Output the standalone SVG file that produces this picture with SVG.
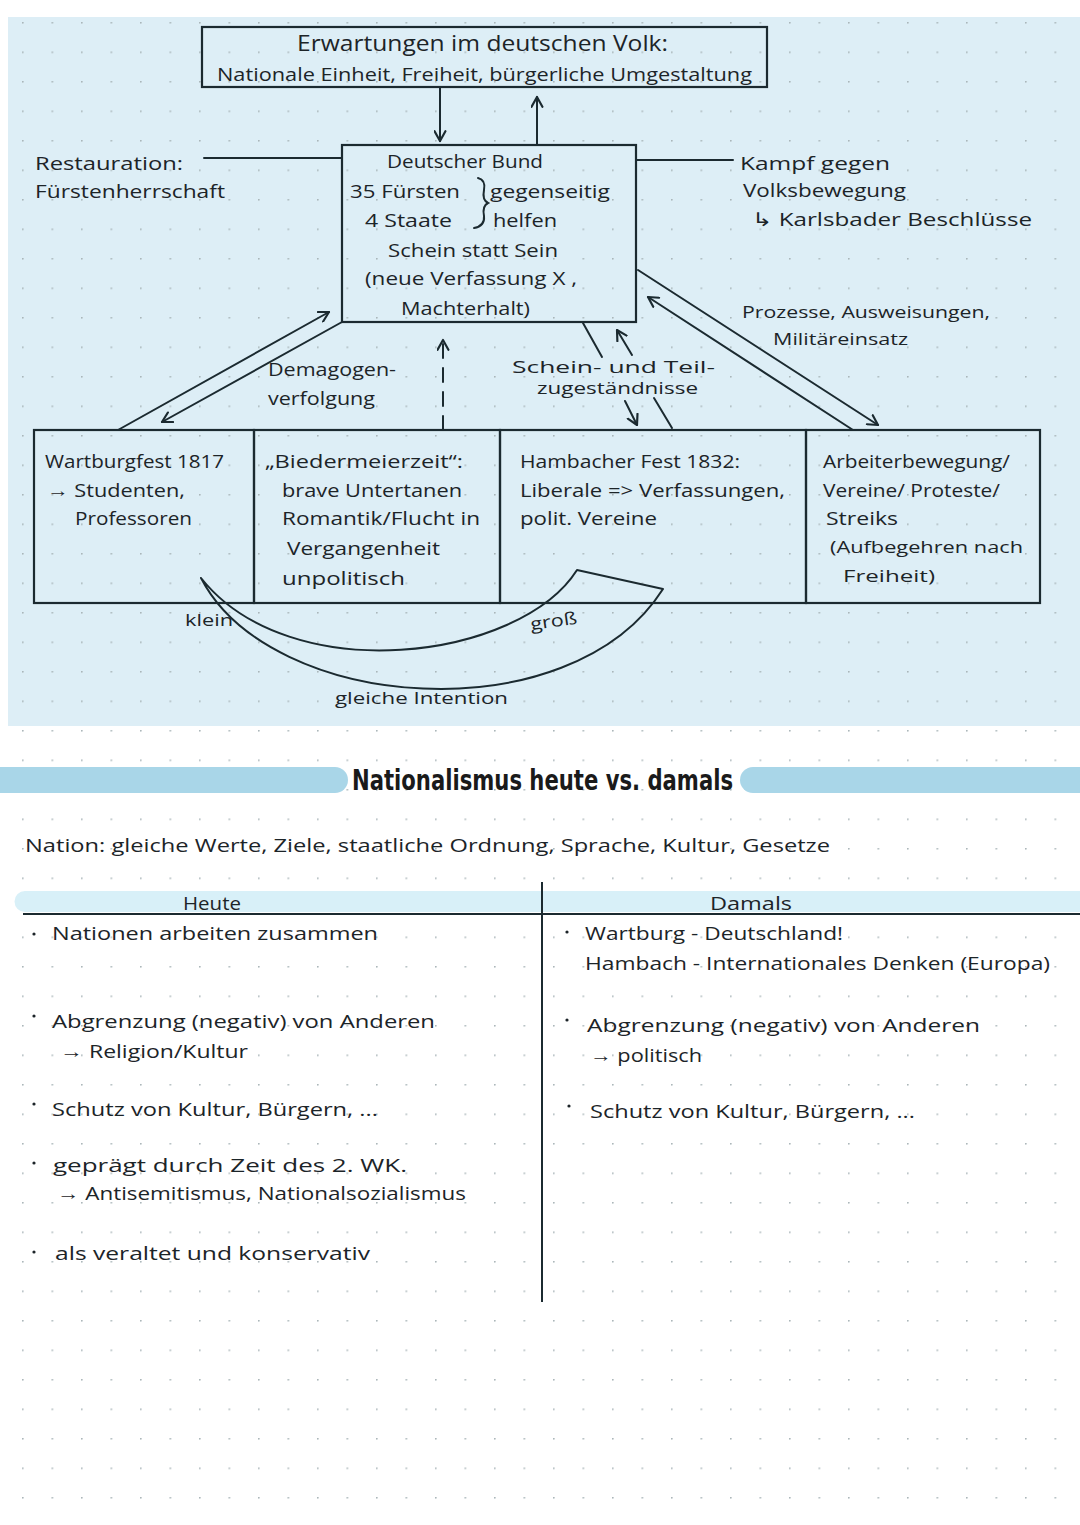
<svg xmlns="http://www.w3.org/2000/svg" width="1080" height="1525" viewBox="0 0 1080 1525">
<defs>
<pattern id="dots" x="22" y="22" width="29.5" height="29.5" patternUnits="userSpaceOnUse">
<circle cx="0.8" cy="0.8" r="0.9" fill="#a7b3b7"/>
</pattern>
<marker id="ah" viewBox="0 0 12 12" refX="10" refY="6" markerWidth="13" markerHeight="13" markerUnits="userSpaceOnUse" orient="auto-start-reverse">
<path d="M1,1 L10,6 L1,11" fill="none" stroke="#1b2a30" stroke-width="2" stroke-linecap="round" stroke-linejoin="round"/>
</marker>
</defs>
<style>
.hw{font-family:"Open Sans","Liberation Sans",sans-serif;font-size:19px;fill:#1c2428}
.sm{font-size:17px}
.big{font-size:22px}
.ln{stroke:#1b2a30;stroke-width:2;fill:none;stroke-linecap:round}
.box{stroke:#1b2a30;stroke-width:2.2;fill:none}
.title{font-family:"DejaVu Sans Condensed","Liberation Sans Narrow","Liberation Sans",sans-serif;font-weight:bold;font-size:29px;fill:#1a1a1a}
.bl{fill:#1c2428}
</style>
<rect x="0" y="0" width="1080" height="1525" fill="#ffffff"/>
<rect x="8" y="17" width="1072" height="709" fill="#ddeef6"/>
<rect x="0" y="0" width="1080" height="1525" fill="url(#dots)"/>

<g id="connectors">
<line class="ln" x1="440" y1="88" x2="440" y2="141" marker-end="url(#ah)"/>
<line class="ln" x1="537" y1="144" x2="537" y2="97" marker-end="url(#ah)"/>
<line class="ln" x1="204" y1="158" x2="342" y2="158"/>
<line class="ln" x1="636" y1="160" x2="733" y2="160"/>
<line class="ln" x1="118" y1="430" x2="329" y2="312" marker-end="url(#ah)"/>
<line class="ln" x1="342" y1="322" x2="162" y2="422" marker-end="url(#ah)"/>
<line class="ln" x1="638" y1="270" x2="878" y2="425" marker-end="url(#ah)"/>
<line class="ln" x1="853" y1="430" x2="648" y2="297" marker-end="url(#ah)"/>
<line class="ln" x1="443" y1="430" x2="443" y2="340" stroke-dasharray="14,10" marker-end="url(#ah)"/>
<line class="ln" x1="583" y1="323" x2="602" y2="357"/>
<line class="ln" x1="632" y1="355" x2="617" y2="330" marker-end="url(#ah)"/>
<line class="ln" x1="625" y1="401" x2="637" y2="425" marker-end="url(#ah)"/>
<line class="ln" x1="654" y1="398" x2="672" y2="428"/>
<path class="ln" d="M201,578 C270,712 570,735 663,589 L577,570 C520,660 290,690 201,578" stroke-linejoin="round"/>
</g>

<g id="node-erwartungen">
<rect class="box" x="202" y="27" width="565" height="60"/>
<text class="hw big" x="297" y="51" textLength="371" lengthAdjust="spacingAndGlyphs">Erwartungen im deutschen Volk:</text>
<text class="hw" x="217" y="81" textLength="535" lengthAdjust="spacingAndGlyphs">Nationale Einheit, Freiheit, bürgerliche Umgestaltung</text>
</g>

<g id="node-restauration">
<text class="hw" x="35" y="170" textLength="148" lengthAdjust="spacingAndGlyphs">Restauration:</text>
<text class="hw" x="35" y="198" textLength="190" lengthAdjust="spacingAndGlyphs">Fürstenherrschaft</text>
</g>

<g id="node-bund">
<rect class="box" x="342" y="145" width="294" height="177"/>
<text class="hw" x="387" y="168" textLength="156" lengthAdjust="spacingAndGlyphs">Deutscher Bund</text>
<text class="hw" x="350" y="198" textLength="110" lengthAdjust="spacingAndGlyphs">35 Fürsten</text>
<path class="ln" d="M478,178 Q486,180 484,190 Q482,200 488,203 Q482,206 484,216 Q485,226 474,228" stroke-width="1.8"/>
<text class="hw" x="490" y="198" textLength="120" lengthAdjust="spacingAndGlyphs">gegenseitig</text>
<text class="hw" x="365" y="227" textLength="87" lengthAdjust="spacingAndGlyphs">4 Staate</text>
<text class="hw" x="493" y="227" textLength="64" lengthAdjust="spacingAndGlyphs">helfen</text>
<text class="hw" x="388" y="257" textLength="170" lengthAdjust="spacingAndGlyphs">Schein statt Sein</text>
<text class="hw" x="365" y="285" textLength="212" lengthAdjust="spacingAndGlyphs">(neue Verfassung X ,</text>
<text class="hw" x="401" y="315" textLength="129" lengthAdjust="spacingAndGlyphs">Machterhalt)</text>
</g>

<g id="node-kampf">
<text class="hw" x="740" y="170" textLength="150" lengthAdjust="spacingAndGlyphs">Kampf gegen</text>
<text class="hw" x="743" y="197" textLength="163" lengthAdjust="spacingAndGlyphs">Volksbewegung</text>
<text class="hw" x="752" y="226" textLength="280" lengthAdjust="spacingAndGlyphs">↳ Karlsbader Beschlüsse</text>
</g>

<g id="label-prozesse">
<text class="hw sm" x="742" y="318" textLength="248" lengthAdjust="spacingAndGlyphs">Prozesse, Ausweisungen,</text>
<text class="hw sm" x="773" y="345" textLength="135" lengthAdjust="spacingAndGlyphs">Militäreinsatz</text>
</g>

<g id="label-demagogen">
<text class="hw" x="268" y="376" textLength="128" lengthAdjust="spacingAndGlyphs">Demagogen-</text>
<text class="hw" x="268" y="405" textLength="107" lengthAdjust="spacingAndGlyphs">verfolgung</text>
</g>

<g id="label-schein">
<text class="hw sm" x="512" y="373" textLength="203" lengthAdjust="spacingAndGlyphs">Schein- und Teil-</text>
<text class="hw sm" x="537" y="394" textLength="161" lengthAdjust="spacingAndGlyphs">zugeständnisse</text>
</g>

<g id="node-wartburg">
<rect class="box" x="34" y="430" width="220" height="173"/>
<text class="hw" x="45" y="468" textLength="179" lengthAdjust="spacingAndGlyphs">Wartburgfest 1817</text>
<text class="hw" x="47" y="497" textLength="138" lengthAdjust="spacingAndGlyphs">→ Studenten,</text>
<text class="hw" x="75" y="525" textLength="117" lengthAdjust="spacingAndGlyphs">Professoren</text>
</g>

<g id="node-biedermeier">
<rect class="box" x="254" y="430" width="246" height="173"/>
<text class="hw" x="265" y="468" textLength="198" lengthAdjust="spacingAndGlyphs">„Biedermeierzeit“:</text>
<text class="hw" x="282" y="497" textLength="180" lengthAdjust="spacingAndGlyphs">brave Untertanen</text>
<text class="hw" x="282" y="525" textLength="198" lengthAdjust="spacingAndGlyphs">Romantik/Flucht in</text>
<text class="hw" x="287" y="555" textLength="153" lengthAdjust="spacingAndGlyphs">Vergangenheit</text>
<text class="hw" x="282" y="585" textLength="123" lengthAdjust="spacingAndGlyphs">unpolitisch</text>
</g>

<g id="node-hambach">
<rect class="box" x="500" y="430" width="306" height="173"/>
<text class="hw" x="520" y="468" textLength="220" lengthAdjust="spacingAndGlyphs">Hambacher Fest 1832:</text>
<text class="hw" x="520" y="497" textLength="265" lengthAdjust="spacingAndGlyphs">Liberale =&gt; Verfassungen,</text>
<text class="hw" x="520" y="525" textLength="137" lengthAdjust="spacingAndGlyphs">polit. Vereine</text>
</g>

<g id="node-arbeiter">
<rect class="box" x="806" y="430" width="234" height="173"/>
<text class="hw" x="823" y="468" textLength="187" lengthAdjust="spacingAndGlyphs">Arbeiterbewegung/</text>
<text class="hw" x="823" y="497" textLength="177" lengthAdjust="spacingAndGlyphs">Vereine/ Proteste/</text>
<text class="hw" x="826" y="525" textLength="72" lengthAdjust="spacingAndGlyphs">Streiks</text>
<text class="hw sm" x="830" y="553" textLength="193" lengthAdjust="spacingAndGlyphs">(Aufbegehren nach</text>
<text class="hw sm" x="843" y="582" textLength="92" lengthAdjust="spacingAndGlyphs">Freiheit)</text>
</g>

<g id="label-curve">
<text class="hw sm" x="185" y="626" textLength="48" lengthAdjust="spacingAndGlyphs">klein</text>
<text class="hw sm" x="530" y="627" textLength="47" lengthAdjust="spacingAndGlyphs" transform="rotate(-8 553 620)">groß</text>
<text class="hw sm" x="335" y="704" textLength="173" lengthAdjust="spacingAndGlyphs">gleiche Intention</text>
</g>

<g id="header">
<path d="M0,767 H335 A13,13 0 0 1 335,793 H0 Z" fill="#a9d6e8"/>
<path d="M753,767 H1080 V793 H753 A13,13 0 0 1 753,767 Z" fill="#a9d6e8"/>
<text class="title" x="352" y="790" textLength="381" lengthAdjust="spacingAndGlyphs">Nationalismus heute vs. damals</text>
</g>

<g id="nation">
<text class="hw" x="25" y="852" textLength="805" lengthAdjust="spacingAndGlyphs">Nation: gleiche Werte, Ziele, staatliche Ordnung, Sprache, Kultur, Gesetze</text>
</g>

<g id="table">
<path d="M25,891 H1080 V912 H25 A10.5,10.5 0 0 1 25,891 Z" fill="#d8f0f8"/>
<line x1="23" y1="914" x2="1080" y2="914" stroke="#1b2a30" stroke-width="2.2"/>
<line x1="542" y1="882" x2="542" y2="1302" stroke="#1b2a30" stroke-width="2"/>
<text class="hw" x="183" y="910" textLength="58" lengthAdjust="spacingAndGlyphs">Heute</text>
<text class="hw" x="710" y="910" textLength="82" lengthAdjust="spacingAndGlyphs">Damals</text>
</g>

<g id="col-heute">
<circle class="bl" cx="34" cy="934" r="1.6"/>
<text class="hw" x="52" y="940" textLength="326" lengthAdjust="spacingAndGlyphs">Nationen arbeiten zusammen</text>
<circle class="bl" cx="34" cy="1016" r="1.6"/>
<text class="hw" x="52" y="1028" textLength="383" lengthAdjust="spacingAndGlyphs">Abgrenzung (negativ) von Anderen</text>
<text class="hw" x="60" y="1058" textLength="188" lengthAdjust="spacingAndGlyphs">→ Religion/Kultur</text>
<circle class="bl" cx="34" cy="1104" r="1.6"/>
<text class="hw" x="52" y="1116" textLength="326" lengthAdjust="spacingAndGlyphs">Schutz von Kultur, Bürgern, ...</text>
<circle class="bl" cx="34" cy="1163" r="1.6"/>
<text class="hw" x="53" y="1172" textLength="354" lengthAdjust="spacingAndGlyphs">geprägt durch Zeit des 2. WK.</text>
<text class="hw" x="57" y="1200" textLength="409" lengthAdjust="spacingAndGlyphs">→ Antisemitismus, Nationalsozialismus</text>
<circle class="bl" cx="34" cy="1252" r="1.6"/>
<text class="hw" x="55" y="1260" textLength="315" lengthAdjust="spacingAndGlyphs">als veraltet und konservativ</text>
</g>

<g id="col-damals">
<circle class="bl" cx="567" cy="932" r="1.6"/>
<text class="hw" x="585" y="940" textLength="258" lengthAdjust="spacingAndGlyphs">Wartburg - Deutschland!</text>
<text class="hw" x="585" y="970" textLength="465" lengthAdjust="spacingAndGlyphs">Hambach - Internationales Denken (Europa)</text>
<circle class="bl" cx="567" cy="1020" r="1.6"/>
<text class="hw" x="587" y="1032" textLength="393" lengthAdjust="spacingAndGlyphs">Abgrenzung (negativ) von Anderen</text>
<text class="hw" x="590" y="1062" textLength="112" lengthAdjust="spacingAndGlyphs">→ politisch</text>
<circle class="bl" cx="569" cy="1106" r="1.6"/>
<text class="hw" x="590" y="1118" textLength="325" lengthAdjust="spacingAndGlyphs">Schutz von Kultur, Bürgern, ...</text>
</g>
</svg>
